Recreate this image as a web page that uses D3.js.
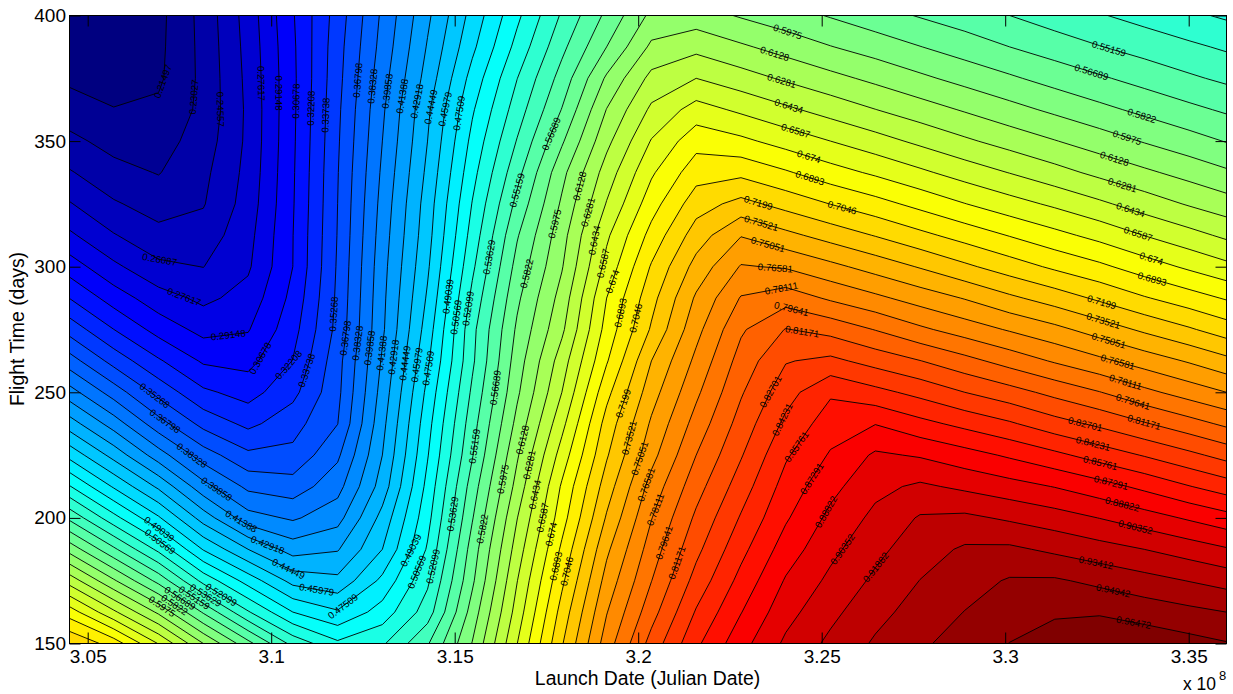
<!DOCTYPE html>
<html>
  <head>
    <meta charset="utf-8">
    <title>Launch date / flight time contours</title>
    <script src="https://d3js.org/d3.v7.min.js"></script>
    <style>
      body { margin: 0; background: #fff; }
      text { font-family: "Liberation Sans", Arial, sans-serif; fill: #000; }
    </style>
  </head>
  <body>
    <script type="text/javascript">
      // launch date in units of 1e8 (columns of the grid)
      var launchDates = [3.0449, 3.0571, 3.0693, 3.0815, 3.0937, 3.1059, 3.1181, 3.1303, 3.1426,
        3.1548, 3.1670, 3.1792, 3.1914, 3.2036, 3.2158, 3.2280, 3.2402, 3.2524, 3.2646, 3.2768,
        3.2890, 3.3012, 3.3135, 3.3257, 3.3379, 3.3501, 3.3603];
      // flight time in days (rows of the grid)
      var flightTimes = [400, 387.5, 375, 362.5, 350, 337.5, 325, 312.5, 300, 287.5, 275,
        262.5, 250, 237.5, 225, 212.5, 200, 187.5, 175, 162.5, 150];

      // values, one list per flight time
      var row400 = [.2012, .2020, .2105, .2355, .2675, .3054, .3444, .3862, .4261, .4653, .5023, .5383, .5704, .6013, .6044, .5960, .5886, .5810, .5731, .5657, .5589, .5516, .5440, .5375, .5309, .5240, .5187];
      var row387 = [.2058, .2058, .2113, .2347, .2661, .3040, .3466, .3888, .4305, .4717, .5106, .5476, .5822, .6159, .6235, .6151, .6067, .5981, .5906, .5826, .5748, .5669, .5595, .5522, .5456, .5393, .5340];
      var row375 = [.2119, .2104, .2124, .2341, .2649, .3034, .3478, .3925, .4353, .4809, .5207, .5577, .5999, .6327, .6434, .6347, .6258, .6174, .6091, .6006, .5924, .5845, .5764, .5689, .5614, .5540, .5485];
      var row362 = [.2228, .2154, .2180, .2341, .2639, .3037, .3495, .3961, .4417, .4885, .5285, .5675, .6133, .6464, .6650, .6558, .6464, .6373, .6284, .6198, .6113, .6027, .5944, .5863, .5784, .5707, .5646];
      var row350 = [.2341, .2251, .2239, .2372, .2641, .3042, .3507, .3986, .4445, .4947, .5372, .5800, .6239, .6597, .6835, .6775, .6679, .6587, .6495, .6400, .6307, .6220, .6135, .6050, .5964, .5883, .5814];
      var row337 = [.2471, .2352, .2295, .2416, .2655, .3049, .3519, .4013, .4480, .5005, .5465, .5929, .6350, .6717, .6982, .7006, .6911, .6804, .6714, .6617, .6519, .6429, .6336, .6242, .6157, .6073, .5999];
      var row325 = [.2622, .2473, .2390, .2445, .2675, .3055, .3527, .4039, .4517, .5064, .5559, .5999, .6444, .6827, .7131, .7248, .7145, .7043, .6949, .6847, .6744, .6648, .6559, .6463, .6362, .6266, .6194];
      var row312 = [.2792, .2619, .2502, .2522, .2710, .3065, .3534, .4062, .4541, .5118, .5654, .6067, .6559, .6946, .7274, .7497, .7393, .7291, .7191, .7086, .6985, .6885, .6786, .6691, .6584, .6487, .6403];
      var row300 = [.2996, .2795, .2642, .2606, .2739, .3068, .3545, .4084, .4575, .5179, .5724, .6116, .6638, .7061, .7407, .7670, .7643, .7546, .7444, .7340, .7229, .7122, .7018, .6926, .6816, .6712, .6628];
      var row287 = [.3221, .2997, .2826, .2727, .2817, .3112, .3557, .4100, .4619, .5250, .5791, .6188, .6740, .7147, .7528, .7822, .7898, .7788, .7693, .7592, .7496, .7383, .7281, .7171, .7060, .6962, .6878];
      var row275 = [.3469, .3222, .3009, .2866, .2904, .3163, .3573, .4113, .4670, .5317, .5848, .6250, .6798, .7218, .7610, .7942, .8124, .8065, .7958, .7841, .7740, .7643, .7548, .7436, .7324, .7218, .7122];
      var row262 = [.3753, .3470, .3241, .3046, .3019, .3225, .3622, .4159, .4726, .5335, .5898, .6357, .6878, .7352, .7695, .8025, .8260, .8308, .8213, .8121, .8014, .7903, .7794, .7693, .7590, .7489, .7395];
      var row250 = [.4053, .3762, .3476, .3250, .3160, .3329, .3640, .4200, .4792, .5392, .5947, .6434, .7000, .7440, .7780, .8100, .8362, .8554, .8469, .8377, .8270, .8178, .8072, .7970, .7851, .7744, .7658];
      var row237 = [.4368, .4067, .3741, .3478, .3335, .3466, .3677, .4246, .4847, .5451, .6021, .6541, .7107, .7528, .7870, .8178, .8458, .8657, .8724, .8622, .8533, .8443, .8331, .8238, .8131, .8025, .7933];
      var row225 = [.4705, .4390, .4056, .3755, .3560, .3568, .3804, .4292, .4893, .5505, .6108, .6653, .7182, .7607, .7964, .8257, .8556, .8745, .8906, .8867, .8790, .8706, .8613, .8510, .8412, .8308, .8216];
      var row212 = [.5072, .4732, .4414, .4039, .3796, .3749, .3929, .4361, .4950, .5589, .6184, .6761, .7275, .7717, .8056, .8346, .8636, .8836, .8994, .9062, .9004, .8943, .8876, .8791, .8692, .8583, .8499];
      var row200 = [.5485, .5109, .4771, .4376, .4047, .3964, .4082, .4497, .5006, .5658, .6276, .6827, .7369, .7805, .8146, .8438, .8710, .8920, .9073, .9203, .9221, .9165, .9105, .9032, .8951, .8862, .8786];
      var row187 = [.5921, .5546, .5170, .4740, .4445, .4223, .4279, .4598, .5075, .5738, .6350, .6923, .7474, .7884, .8230, .8530, .8802, .8995, .9146, .9275, .9363, .9371, .9310, .9249, .9188, .9116, .9050];
      var row175 = [.6373, .5996, .5620, .5161, .4840, .4546, .4484, .4789, .5182, .5794, .6429, .7014, .7563, .7961, .8326, .8625, .8897, .9070, .9218, .9344, .9431, .9509, .9514, .9457, .9396, .9336, .9284];
      var row162 = [.6822, .6464, .6097, .5650, .5225, .4904, .4769, .4971, .5285, .5888, .6498, .7105, .7650, .8056, .8438, .8723, .8981, .9148, .9293, .9405, .9498, .9578, .9616, .9630, .9582, .9534, .9494];
      var row150 = [.7191, .6978, .6579, .6128, .5718, .5312, .5087, .5187, .5500, .5982, .6584, .7184, .7734, .8175, .8545, .8826, .9064, .9223, .9362, .9468, .9561, .9650, .9754, .9777, .9748, .9699, .9657];
      var rows = [row400, row387, row375, row362, row350, row337, row325, row312, row300, row287, row275,
        row262, row250, row237, row225, row212, row200, row187, row175, row162, row150];

      // contour levels, as printed on the chart
      var levelTexts = ["0.21497", "0.23027", "0.24557", "0.26087", "0.27617", "0.29148", "0.30678", "0.32208",
        "0.33738", "0.35268", "0.36798", "0.38328", "0.39858", "0.41388", "0.42918", "0.44449", "0.45979",
        "0.47509", "0.49039", "0.50569", "0.52099", "0.53629", "0.55159", "0.56689", "0.5822", "0.5975",
        "0.6128", "0.6281", "0.6434", "0.6587", "0.674", "0.6893", "0.7046", "0.7199", "0.73521", "0.75051",
        "0.76581", "0.78111", "0.79641", "0.81171", "0.82701", "0.84231", "0.85761", "0.87291", "0.88822",
        "0.90352", "0.91882", "0.93412", "0.94942", "0.96472"];

      var xTicks = [3.05, 3.1, 3.15, 3.2, 3.25, 3.3, 3.35];
      var yTicks = [150, 200, 250, 300, 350, 400];

      // labels on the contours: [level, launch date, flight time]
      var labelsTop = [
        ["0.21497", 3.0689, 374.6], ["0.23027", 3.0792, 367.5], ["0.24557", 3.0869, 362.7], ["0.27617", 3.0975, 373],
        ["0.29148", 3.1019, 369.1], ["0.30678", 3.1065, 365.9], ["0.32208", 3.1111, 363.1], ["0.33738", 3.1152, 360.3],
        ["0.36798", 3.1237, 374.2], ["0.38328", 3.1277, 371.8], ["0.39858", 3.1316, 369.9], ["0.41388", 3.1356, 367.9],
        ["0.42918", 3.1397, 365.9], ["0.44449", 3.1438, 363.5], ["0.45979", 3.1474, 362.7], ["0.47509", 3.1512, 361.1],
        ["0.56689", 3.176, 353.1], ["0.55159", 3.167, 330.4], ["0.5975", 3.1765, 317.3], ["0.53629", 3.1594, 303.8],
        ["0.5822", 3.1692, 297.4], ["0.49039", 3.1479, 288.2], ["0.50569", 3.1504, 279.9], ["0.52099", 3.1536, 283.4],
        ["0.6128", 3.1844, 332], ["0.6281", 3.1863, 321.7], ["0.6434", 3.1882, 310.5], ["0.6587", 3.1904, 301.4],
        ["0.674", 3.1929, 294.2], ["0.6893", 3.1945, 281.9], ["0.7046", 3.1983, 279.9]];
      var labelsRidge = [
        ["0.5975", 3.2406, 393], ["0.6128", 3.237, 383.8], ["0.6281", 3.2389, 373], ["0.6434", 3.2408, 362.7],
        ["0.6587", 3.2427, 353.1], ["0.674", 3.2463, 342.8], ["0.6893", 3.2466, 334.4], ["0.7199", 3.2327, 325.3],
        ["0.73521", 3.2332, 315.7], ["0.75051", 3.2351, 307.3], ["0.76581", 3.2373, 298.2], ["0.78111", 3.2392, 289.8],
        ["0.79641", 3.2414, 281.1], ["0.81171", 3.2444, 271.9], ["0.7046", 3.2553, 322.1]];
      var labelsRight = [
        ["0.55159", 3.3283, 387], ["0.56689", 3.3234, 377], ["0.5822", 3.337, 359.1], ["0.5975", 3.3329, 350],
        ["0.6128", 3.3294, 341.2], ["0.6281", 3.3316, 330.8], ["0.6434", 3.3338, 320.9], ["0.6587", 3.3359, 311.7],
        ["0.674", 3.3395, 301.8], ["0.6893", 3.3398, 293.8], ["0.7199", 3.3259, 283.8], ["0.73521", 3.3264, 276.7],
        ["0.75051", 3.328, 269.5], ["0.76581", 3.3305, 261.1], ["0.78111", 3.3327, 253.6], ["0.79641", 3.3348, 246],
        ["0.81171", 3.3378, 237.7], ["0.82701", 3.3218, 237.3], ["0.84231", 3.3239, 229.3], ["0.85761", 3.3259, 221.7],
        ["0.87291", 3.3288, 213.8], ["0.88822", 3.3318, 205], ["0.90352", 3.3354, 195.8], ["0.93412", 3.3248, 182.3],
        ["0.94942", 3.3294, 170.8], ["0.96472", 3.3348, 156.8]];
      var labelsMiddle = [
        ["0.91882", 3.2645, 180.7], ["0.90352", 3.2553, 187.9], ["0.88822", 3.2509, 202.6], ["0.56689", 3.1604, 252],
        ["0.55159", 3.1555, 228.5], ["0.6128", 3.1678, 231.3], ["0.6281", 3.1697, 221.3], ["0.5975", 3.1632, 215.4],
        ["0.6434", 3.1716, 209.4], ["0.6587", 3.1738, 200.2], ["0.53629", 3.1501, 201.4], ["0.5822", 3.1585, 195.4],
        ["0.674", 3.1762, 193.5], ["0.6893", 3.1779, 180.7], ["0.7046", 3.1806, 178.7], ["0.52099", 3.1441, 180.7],
        ["0.50569", 3.14, 178.3], ["0.49039", 3.1386, 186.7], ["0.7199", 3.195, 246], ["0.73521", 3.197, 232.1],
        ["0.75051", 3.1997, 224.1], ["0.76581", 3.2019, 213.4], ["0.78111", 3.2046, 203.4], ["0.79641", 3.2068, 190.3],
        ["0.81171", 3.2095, 182.7], ["0.82701", 3.2359, 250.4], ["0.84231", 3.2392, 239.2], ["0.85761", 3.243, 228.5],
        ["0.87291", 3.2468, 216.1]];
      var labelsLower = [
        ["0.26087", 3.0697, 303.8], ["0.27617", 3.0762, 287.8], ["0.29148", 3.0882, 273.9], ["0.30678", 3.0975, 263.1],
        ["0.32208", 3.1046, 261.1], ["0.33738", 3.1103, 258.4], ["0.35268", 3.1177, 281.1], ["0.36798", 3.1207, 271.5],
        ["0.38328", 3.1239, 269.5], ["0.39858", 3.1275, 267.5], ["0.41388", 3.1305, 265.5], ["0.42918", 3.1337, 263.9],
        ["0.44449", 3.137, 261.5], ["0.45979", 3.14, 260.8], ["0.47509", 3.1427, 259.6], ["0.35268", 3.0675, 247.2],
        ["0.36798", 3.0705, 237.3], ["0.38328", 3.0776, 223.3], ["0.39858", 3.0847, 210.6], ["0.41388", 3.092, 199],
        ["0.42918", 3.0989, 188.7], ["0.44449", 3.1049, 180.3], ["0.45979", 3.1125, 172.3], ["0.47509", 3.1185, 166.8],
        ["0.49039", 3.0692, 195], ["0.50569", 3.0692, 189.5], ["0.52099", 3.0861, 168.8], ["0.53629", 3.082, 168.8],
        ["0.55159", 3.0784, 166.8], ["0.56689", 3.0746, 166.8], ["0.5822", 3.0732, 164.4], ["0.5975", 3.0697, 163.6]];

      var w = 1233
      var h = 694
      var plotLeft = 69.5, plotRight = 1226.5, plotTop = 15.5, plotBottom = 643.5

      var x = d3.scaleLinear().domain([3.05, 3.35]).range([87.7, 1188.7]);
      var y = d3.scaleLinear().domain([150, 400]).range([plotBottom, plotTop]);

      // grid index -> data, contours come back with grid points at index + 0.5
      var dateAt = d3.scaleLinear().domain(d3.range(launchDates.length)).range(launchDates).clamp(true);
      var timeAt = d3.scaleLinear().domain(d3.range(flightTimes.length)).range(flightTimes).clamp(true);
      function project(p) {
        return [x(dateAt(p[0] - 0.5)), y(timeAt(p[1] - 0.5))];
      }
      var path = d3.geoPath(d3.geoTransform({
        point: function(a, b) {
          var q = project([a, b]);
          this.stream.point(q[0], q[1]);
        }
      }));

      // jet colormap
      function jet(t) {
        function part(v) { return Math.round(255 * Math.max(0, Math.min(1, v))); }
        return d3.rgb(part(Math.min(4 * t - 1.5, -4 * t + 4.5)),
                      part(Math.min(4 * t - 0.5, -4 * t + 3.5)),
                      part(Math.min(4 * t + 0.5, -4 * t + 2.5))).formatHex();
      }

      var svg = d3.select("body").append("svg")
                  .attr("width", w)
                  .attr("height", h)
                  .style("display", "block");

      svg.append("clipPath").attr("id", "plot").append("rect")
         .attr("x", plotLeft).attr("y", plotTop)
         .attr("width", plotRight - plotLeft).attr("height", plotBottom - plotTop);

      var plot = svg.append("g").attr("clip-path", "url(#plot)");
      plot.append("rect")
          .attr("x", plotLeft).attr("y", plotTop)
          .attr("width", plotRight - plotLeft).attr("height", plotBottom - plotTop)
          .attr("fill", jet(0));

      var values = rows.flat();
      var maker = d3.contours().size([launchDates.length, flightTimes.length]);
      var shapes = levelTexts.map(function(t) { return maker.contour(values, +t); });

      plot.selectAll("path.band")
          .data(shapes)
          .enter()
          .append("path")
          .attr("class", "band")
          .attr("d", path)
          .attr("fill", function(d, i) { return jet((i + 1) / levelTexts.length); })
          .attr("stroke", "#000")
          .attr("stroke-width", 0.9)
          .attr("stroke-linejoin", "round");

      // put a label on the nearest piece of its contour and turn it along the line
      function placeLabel(label) {
        var shape = shapes[levelTexts.indexOf(label[0])];
        var ax = x(label[1]), ay = y(label[2]);
        var best = null, bestDist = Infinity;
        shape.coordinates.forEach(function(polygon) {
          polygon.forEach(function(ring) {
            d3.pairs(ring).forEach(function(pair) {
              var p = project(pair[0]), q = project(pair[1]);
              var dx = q[0] - p[0], dy = q[1] - p[1];
              var len = dx * dx + dy * dy;
              if (len < 0.01) return;
              var u = Math.max(0, Math.min(1, ((ax - p[0]) * dx + (ay - p[1]) * dy) / len));
              var mx = p[0] + u * dx, my = p[1] + u * dy;
              var dist = (mx - ax) * (mx - ax) + (my - ay) * (my - ay);
              if (dist < bestDist) {
                bestDist = dist;
                best = {x: mx, y: my, angle: Math.atan2(dy, dx) * 180 / Math.PI};
              }
            });
          });
        });
        if (best.angle > 90) best.angle -= 180;
        if (best.angle <= -90) best.angle += 180;
        return best;
      }

      var allLabels = labelsTop.concat(labelsRidge, labelsRight, labelsMiddle, labelsLower);
      plot.selectAll("text.level")
          .data(allLabels)
          .enter()
          .append("text")
          .attr("class", "level")
          .attr("text-anchor", "middle")
          .attr("dominant-baseline", "central")
          .attr("font-size", 9.7)
          .attr("transform", function(d) {
            var b = placeLabel(d);
            return "translate(" + b.x + "," + b.y + ") rotate(" + b.angle + ")";
          })
          .text(function(d) { return d[0]; });

      // axes, ticks point inwards on all four sides
      var tickLen = 11;
      var axes = [
        {axis: d3.axisBottom(x).tickValues(xTicks).tickFormat(String).tickPadding(6), at: [0, plotBottom]},
        {axis: d3.axisTop(x).tickValues(xTicks).tickFormat(""), at: [0, plotTop]},
        {axis: d3.axisLeft(y).tickValues(yTicks).tickFormat(String).tickPadding(3.5), at: [plotLeft, 0]},
        {axis: d3.axisRight(y).tickValues(yTicks).tickFormat(""), at: [plotRight, 0]}
      ];
      axes.forEach(function(a) {
        var g = svg.append("g")
                   .attr("transform", "translate(" + a.at + ")")
                   .call(a.axis.tickSizeInner(-tickLen).tickSizeOuter(0));
        g.select(".domain").remove();
        g.selectAll("line").attr("stroke", "#000").attr("stroke-width", 1);
        g.selectAll("text").attr("font-size", 19);
      });

      svg.append("rect")
         .attr("x", plotLeft).attr("y", plotTop)
         .attr("width", plotRight - plotLeft).attr("height", plotBottom - plotTop)
         .attr("fill", "none")
         .attr("stroke", "#000");

      svg.append("text")
         .attr("x", 647.5).attr("y", 685)
         .attr("text-anchor", "middle")
         .attr("font-size", 19.4)
         .text("Launch Date (Julian Date)");
      svg.append("text")
         .attr("transform", "translate(24,329) rotate(-90)")
         .attr("text-anchor", "middle")
         .attr("font-size", 19.4)
         .text("Flight Time (days)");
      svg.append("text")
         .attr("x", 1183).attr("y", 689.5)
         .attr("font-size", 17.5)
         .text("x 10");
      svg.append("text")
         .attr("x", 1219).attr("y", 680)
         .attr("font-size", 13)
         .text("8");
    </script>
  </body>
</html>
